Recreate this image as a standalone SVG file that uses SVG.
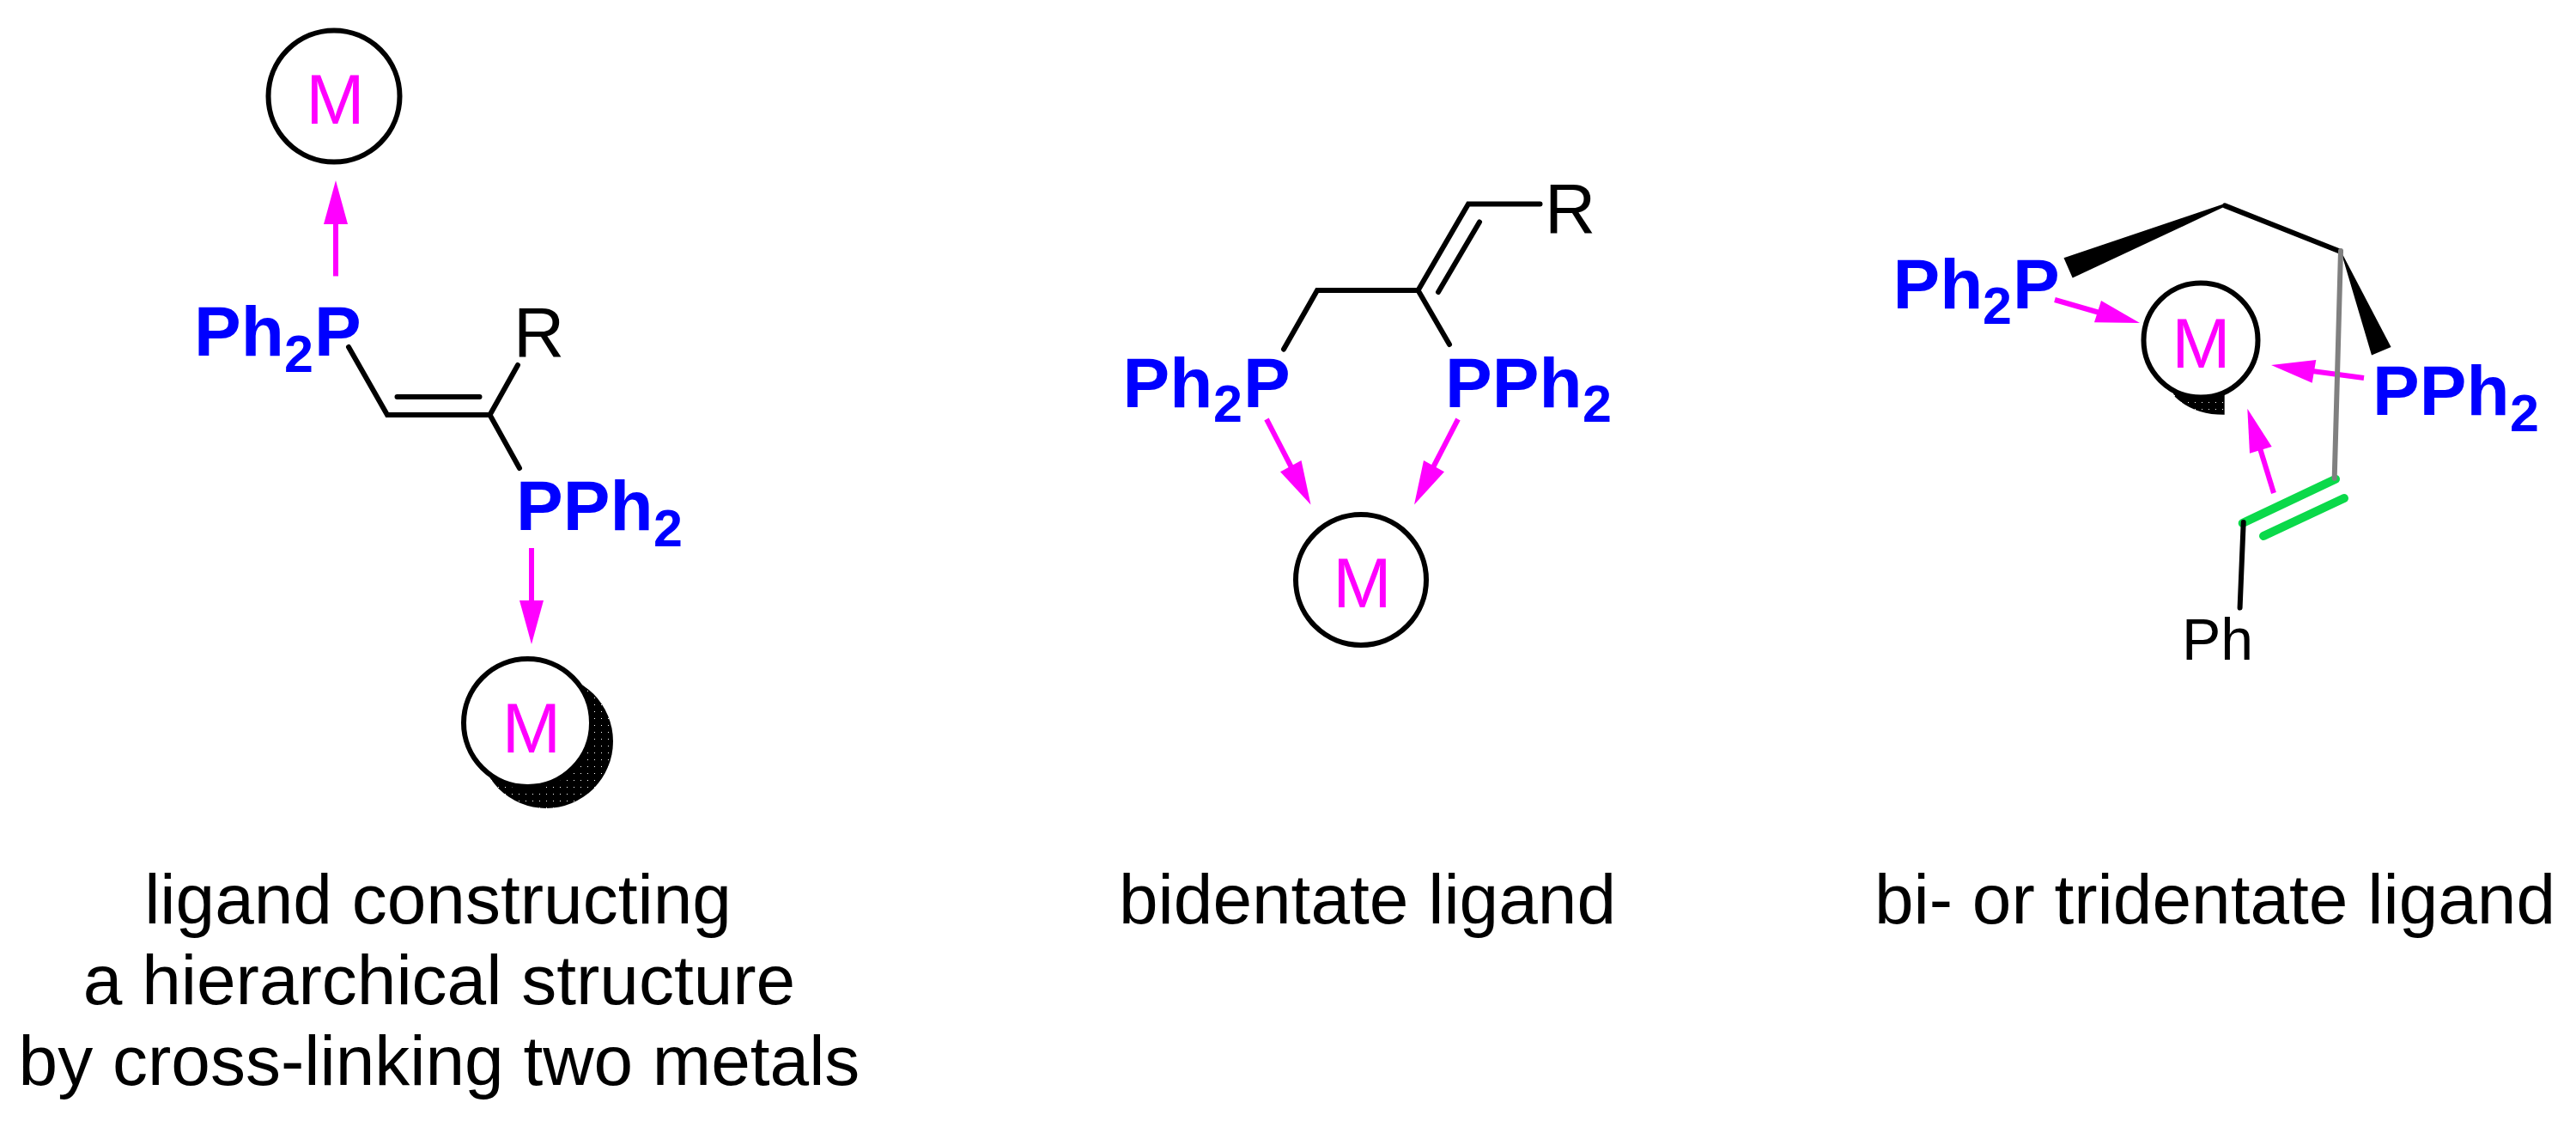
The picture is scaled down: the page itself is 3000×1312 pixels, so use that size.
<svg xmlns="http://www.w3.org/2000/svg" width="3000" height="1312" viewBox="0 0 3000 1312">
<style>
text{font-family:"Liberation Sans",Arial,sans-serif}
.lig{font-weight:700;font-size:82px;fill:#0000ff}
.sub{font-size:61px}
.m{font-size:82px;fill:#ff00ff;text-anchor:middle}
.blk{font-size:82px;fill:#000}
.ph{font-size:68px;fill:#000}
.cap{font-size:82px;fill:#000;text-anchor:middle}
.ring{fill:#fff;stroke:#000;stroke-width:6}
.bond{fill:none;stroke:#000;stroke-width:6;stroke-linecap:round;stroke-linejoin:miter}
.shaft{stroke:#ff00ff;stroke-width:6;fill:none}
.head{fill:#ff00ff}
.wedge{fill:#000}
.green{stroke:#0bd94a;stroke-width:10;stroke-linecap:round;fill:none}
.grey{stroke:#808080;stroke-width:6;stroke-linecap:round;fill:none}
</style>
<defs>
<pattern id="stip" width="8" height="8" patternUnits="userSpaceOnUse"><rect width="8" height="8" fill="#000"/><rect x="4" y="4" width="1" height="1" fill="#fff"/></pattern>
</defs>
<rect width="3000" height="1312" fill="#fff"/>
<g id="connectors">
<path class="bond" d="M406 404L451 483H570.5L603 425M570.5 483L605 545M462.5 462H558.5"/>
<path class="shaft" d="M391 321.5V258"/><polygon class="head" points="391,210 405,261 377,261"/>
<path class="shaft" d="M619 638V701"/><polygon class="head" points="619,750 605,699 633,699"/>
<path class="bond" d="M1495 406.6L1534 338H1651.5L1710 237.4H1793.5M1651.5 338L1688 401M1675 340L1723 258.5"/>
<path class="shaft" d="M1475 488L1505 546"/><polygon class="head" points="1526.5,587.6 1491,549.3 1515.5,536"/>
<path class="shaft" d="M1698 488L1668 546"/><polygon class="head" points="1647,587.6 1658,536 1682,549.3"/>
<polygon class="wedge" points="2403.5,300.3 2413.7,323.6 2592,240 2591,237"/>
<path class="bond" d="M2591 239.4L2726 293"/>
<polygon class="wedge" points="2726,292 2784.6,404 2762,413.5"/>
<path class="shaft" d="M2393 349L2445 364"/><polygon class="head" points="2492,376 2447,350 2439,375.3"/>
<path class="shaft" d="M2753 440L2693 432"/><polygon class="head" points="2645,425 2697.3,419 2692.7,445.7"/>
<path class="shaft" d="M2648 574L2632 522"/><polygon class="head" points="2617.3,475.7 2645.7,520 2620,527.7"/>
<path class="green" d="M2611.7 609L2720 557.7M2636 624L2730 580"/>
<path class="grey" d="M2726 292L2718.7 556.7"/>
<path class="bond" d="M2612.7 608L2608.6 707.5"/>
</g>
<g id="metal-1"><circle class="ring" cx="389" cy="112" r="76.5"/><text class="m" x="390.5" y="144">M</text></g>
<g id="metal-2"><circle cx="636" cy="863" r="78" fill="url(#stip)"/><circle class="ring" cx="614.5" cy="841.5" r="74.5"/><text class="m" x="619" y="876">M</text></g>
<g id="metal-3"><circle class="ring" cx="1585" cy="675" r="76"/><text class="m" x="1586.5" y="707">M</text></g>
<g id="metal-4"><path d="M2528 452L2533 462Q2555 483 2590.7 482.7V450Z" fill="url(#stip)"/><circle class="ring" cx="2563" cy="396" r="66.5"/><text class="m" x="2563.5" y="428">M</text></g>
<g id="ligand-a-p1"><text class="lig" y="414"><tspan x="226">Ph</tspan><tspan class="sub" x="331" y="432.5">2</tspan><tspan x="366" y="414">P</tspan></text></g>
<g id="ligand-a-p2"><text class="lig" y="616.5"><tspan x="601">PPh</tspan><tspan class="sub" x="761" y="636">2</tspan></text></g>
<g id="ligand-a-r"><text class="blk" x="598" y="415">R</text></g>
<g id="ligand-b-p1"><text class="lig" y="474"><tspan x="1307.5">Ph</tspan><tspan class="sub" x="1413" y="491">2</tspan><tspan x="1448" y="474">P</tspan></text></g>
<g id="ligand-b-p2"><text class="lig" y="474"><tspan x="1683">PPh</tspan><tspan class="sub" x="1843" y="491">2</tspan></text></g>
<g id="ligand-b-r"><text class="blk" x="1799" y="270.7">R</text></g>
<g id="ligand-c-p1"><text class="lig" y="358.8"><tspan x="2204.6">Ph</tspan><tspan class="sub" x="2309" y="376.8">2</tspan><tspan x="2344" y="358.8">P</tspan></text></g>
<g id="ligand-c-p2"><text class="lig" y="483"><tspan x="2763">PPh</tspan><tspan class="sub" x="2923" y="501.6">2</tspan></text></g>
<g id="ligand-c-ph"><text class="ph" x="2541" y="768">Ph</text></g>
<g id="captions">
<text class="cap" x="510" y="1075">ligand constructing</text>
<text class="cap" x="511.5" y="1169">a hierarchical structure</text>
<text class="cap" x="511.5" y="1263">by cross-linking two metals</text>
<text class="cap" x="1592.5" y="1075">bidentate ligand</text>
<text class="cap" x="2579.5" y="1075">bi- or tridentate ligand</text>
</g>
</svg>
